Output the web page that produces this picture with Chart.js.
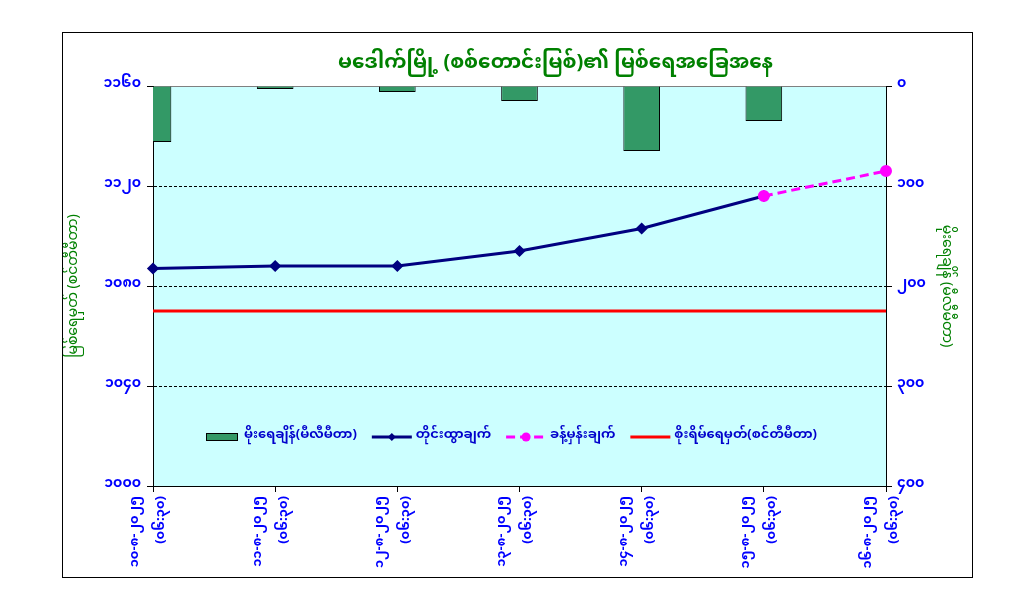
<!DOCTYPE html>
<html>
<head>
<meta charset="utf-8">
<script src="https://cdn.jsdelivr.net/npm/chart.js@4.4.1/dist/chart.umd.min.js"></script>
<style>
  html, body { margin: 0; padding: 0; background: #fff; }
  #wrap { width: 1025px; height: 609px; }
</style>
</head>
<body>
<div id="wrap"><canvas id="chart"></canvas></div>
<script>
// categories (date + reading time)
const dates = ['၁၀-၈-၂၀၂၅', '၁၁-၈-၂၀၂၅', '၁၂-၈-၂၀၂၅', '၁၃-၈-၂၀၂၅', '၁၄-၈-၂၀၂၅', '၁၅-၈-၂၀၂၅', '၁၆-၈-၂၀၂၅'];
const times = ['(၀၆:၃၀)', '(၀၆:၃၀)', '(၀၆:၃၀)', '(၀၆:၃၀)', '(၀၆:၃၀)', '(၀၆:၃၀)', '(၀၆:၃၀)'];

// series
const rainfall = [56, 3, 6, 15, 65, 35, null];                 // mm, right axis
const observed = [1087, 1088, 1088, 1094, 1103, 1116, null];   // cm, left axis
const forecast = [null, null, null, null, null, 1116, 1126];
const dangerLevel = [1070, 1070, 1070, 1070, 1070, 1070, 1070];

// tick labels
const levelTickValues = [1000, 1040, 1080, 1120, 1160];
const levelTickLabels = ['၁၀၀၀', '၁၀၄၀', '၁၀၈၀', '၁၁၂၀', '၁၁၆၀'];
const rainTickValues = [0, 100, 200, 300, 400];
const rainTickLabels = ['၀', '၁၀၀', '၂၀၀', '၃၀၀', '၄၀၀'];

const seriesNames = ['မိုးရေချိန်(မီလီမီတာ)', 'တိုင်းထွာချက်', 'ခန့်မှန်းချက်', 'စိုးရိမ်ရေမှတ်(စင်တီမီတာ)'];

const FONT = "'Noto Sans Myanmar', 'Padauk', 'Myanmar Text', 'Noto Sans', sans-serif";
const BLUE = '#0000ff';
const GREEN = '#008000';

const labels = dates.map((d, i) => [d, times[i]]);

// cyan plot area + outer frame
const plotBg = {
  id: 'plotBg',
  afterLayout(chart) {
    // the title sits a little right of centre in the original
    const t = chart.titleBlock;
    if (t) { t.left += 38; t.right += 38; }
  },
  beforeDraw(chart) {
    const { ctx, chartArea: a } = chart;
    ctx.save();
    ctx.fillStyle = '#ccffff';
    ctx.fillRect(a.left, a.top, a.right - a.left, a.bottom - a.top);
    ctx.restore();
  },
  afterDraw(chart) {
    const ctx = chart.ctx;
    const p = chart.options.layout.padding;
    ctx.save();
    ctx.strokeStyle = '#000';
    ctx.lineWidth = 1;
    ctx.strokeRect(p.left + 0.5, p.top + 0.5, chart.width - p.left - p.right - 1, chart.height - p.top - p.bottom - 1);
    ctx.restore();
  }
};

// legend drawn inside the plot area, like the original
const insideLegend = {
  id: 'insideLegend',
  afterDatasetsDraw(chart) {
    const { ctx, chartArea: a } = chart;
    const sets = chart.data.datasets;
    ctx.save();
    ctx.font = 'bold 13px ' + FONT;
    const sym = 40, gap = 4, sep = 15;
    const widths = sets.map(ds => ctx.measureText(ds.label).width);
    let total = 0;
    widths.forEach(w => total += sym + gap + w);
    total += sep * (sets.length - 1);
    let x = (a.left + a.right) / 2 - total / 2 - 11;
    const y = a.bottom - 49;
    sets.forEach((ds, i) => {
      if (ds.type === 'bar') {
        ctx.fillStyle = ds.backgroundColor;
        ctx.fillRect(x + 6, y - 4, 32, 8);
        ctx.strokeStyle = '#000';
        ctx.lineWidth = 1;
        ctx.strokeRect(x + 6.5, y - 3.5, 31, 7);
      } else {
        ctx.strokeStyle = ds.borderColor;
        ctx.lineWidth = ds.borderWidth;
        ctx.setLineDash(ds.borderDash || []);
        ctx.beginPath();
        ctx.moveTo(x, y);
        ctx.lineTo(x + sym, y);
        ctx.stroke();
        ctx.setLineDash([]);
        if (ds.pointRadius) {
          ctx.fillStyle = ds.pointBackgroundColor;
          ctx.beginPath();
          const r = ds.pointRadius;
          const cx = x + sym / 2;
          if (ds.pointStyle === 'circle') {
            ctx.arc(cx, y, r, 0, Math.PI * 2);
          } else {
            ctx.moveTo(cx, y - r);
            ctx.lineTo(cx + r, y);
            ctx.lineTo(cx, y + r);
            ctx.lineTo(cx - r, y);
            ctx.closePath();
          }
          ctx.fill();
        }
      }
      ctx.fillStyle = '#0000cc';
      ctx.textBaseline = 'middle';
      ctx.textAlign = 'left';
      ctx.fillText(ds.label, x + sym + gap, y);
      x += sym + gap + widths[i] + sep;
    });
    ctx.restore();
  }
};

new Chart(document.getElementById('chart'), {
  type: 'bar',
  data: {
    labels: labels,
    datasets: [
      {
        type: 'bar',
        label: seriesNames[0],
        data: rainfall,
        yAxisID: 'yR',
        backgroundColor: '#339966',
        borderColor: '#000',
        borderWidth: 1,
        barPercentage: 0.3,
        categoryPercentage: 1,
        clip: 0,
        order: 4
      },
      {
        type: 'line',
        label: seriesNames[1],
        data: observed,
        yAxisID: 'yL',
        borderColor: '#000080',
        borderWidth: 3,
        pointStyle: 'rectRot',
        pointRadius: 4,
        pointBackgroundColor: '#000080',
        pointBorderColor: '#000080',
        tension: 0,
        clip: false,
        order: 2
      },
      {
        type: 'line',
        label: seriesNames[2],
        data: forecast,
        yAxisID: 'yL',
        borderColor: '#ff00ff',
        borderWidth: 3,
        borderDash: [9, 5],
        pointStyle: 'circle',
        pointRadius: 4.5,
        pointBackgroundColor: '#ff00ff',
        pointBorderColor: '#ff00ff',
        tension: 0,
        clip: false,
        order: 1
      },
      {
        type: 'line',
        label: seriesNames[3],
        data: dangerLevel,
        yAxisID: 'yL',
        borderColor: '#ff0000',
        borderWidth: 3,
        pointRadius: 0,
        tension: 0,
        order: 3
      }
    ]
  },
  options: {
    responsive: true,
    maintainAspectRatio: false,
    animation: false,
    layout: { padding: { left: 62, right: 52, top: 32, bottom: 31 } },
    plugins: {
      legend: { display: false },
      tooltip: { enabled: false },
      title: {
        display: true,
        text: 'မဒေါက်မြို့ (စစ်တောင်းမြစ်)၏ မြစ်ရေအခြေအနေ',
        color: GREEN,
        font: { family: FONT, size: 20, weight: 'bold' },
        padding: { top: 22, bottom: 8 }
      }
    },
    scales: {
      x: {
        type: 'category',
        offset: false,
        grid: { offset: false, drawOnChartArea: false, tickLength: 6, color: '#000', tickColor: '#000' },
        border: { color: '#000' },
        ticks: {
          autoSkip: false,
          minRotation: 90,
          maxRotation: 90,
          color: BLUE,
          font: { family: FONT, size: 13, weight: 'bold', lineHeight: 2 },
          labelOffset: -16,
          padding: 4
        },
        afterFit(s) { s.height = 92; }
      },
      yL: {
        position: 'left',
        min: 1000,
        max: 1160,
        ticks: {
          stepSize: 40,
          color: BLUE,
          font: { family: FONT, size: 14, weight: 'bold' },
          padding: 6,
          callback: v => levelTickLabels[levelTickValues.indexOf(v)]
        },
        grid: {
          color: c => (c.tick && c.tick.value === 1160) ? '#808080' : '#000',
          tickColor: '#000',
          tickLength: 6,
          tickBorderDash: []
        },
        border: {
          color: '#000',
          dash: c => (c.tick && c.tick.value === 1160) ? [] : [3, 2]
        },
        title: {
          display: true,
          text: 'မြစ်ရေမှတ် (စင်တီမီတာ)',
          color: GREEN,
          font: { family: FONT, size: 14 },
          padding: { top: 5, bottom: 0 }
        },
        afterFit(s) { s.width = 91; }
      },
      yR: {
        position: 'right',
        reverse: true,
        min: 0,
        max: 400,
        ticks: {
          stepSize: 100,
          color: BLUE,
          font: { family: FONT, size: 14, weight: 'bold' },
          padding: 5,
          callback: v => rainTickLabels[rainTickValues.indexOf(v)]
        },
        grid: { drawOnChartArea: false, tickColor: '#000', tickLength: 6, color: '#000' },
        border: { color: '#000' },
        title: {
          display: true,
          text: 'မိုးရေချိန် (မီလီမီတာ)',
          color: GREEN,
          font: { family: FONT, size: 14 },
          padding: { top: 20, bottom: 0 }
        },
        afterFit(s) { s.width = 87; }
      }
    }
  },
  plugins: [plotBg, insideLegend]
});
</script>
</body>
</html>
